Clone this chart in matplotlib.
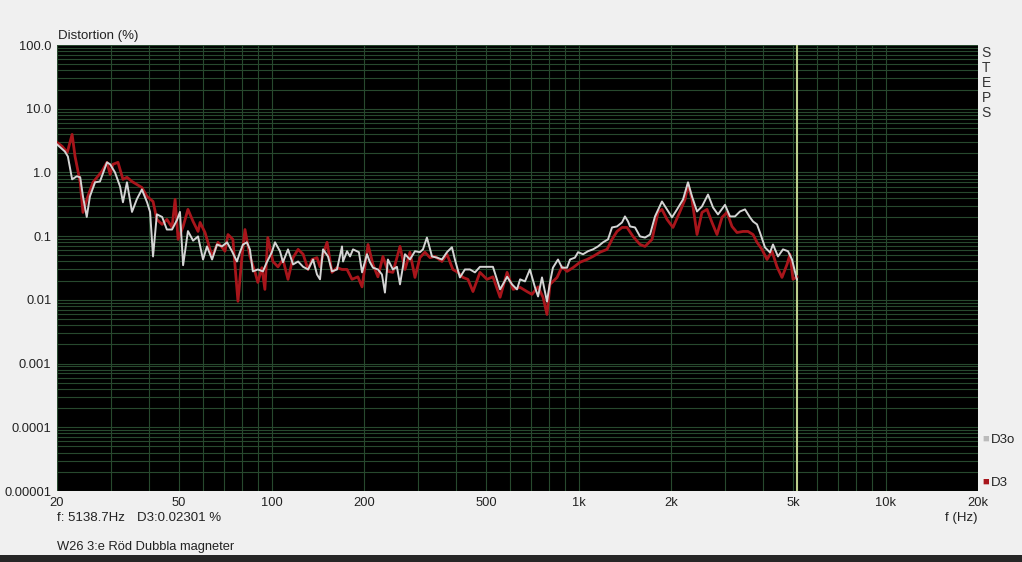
import matplotlib.pyplot as plt
import matplotlib.ticker as mticker
from matplotlib.patches import Rectangle
import numpy as np

plt.rcParams['font.family'] = ['Liberation Sans', 'DejaVu Sans']

# D3o (grå kurva)
f_d3o = [20, 20.5, 21.2, 21.7, 22.4, 23.2, 23.8, 24.3, 25.0, 25.6, 26.6, 27.6, 29.1, 29.8,
         30.9, 32.1, 32.8, 33.8, 35.1, 36.4, 37.8, 39.3, 40.2, 41.1, 42.3, 44.0, 45.6, 47.4,
         49.2, 50.3, 51.5, 53.4, 55.5, 57.6, 59.8, 61.6, 64.0, 66.4, 68.9, 71.6, 74.3, 77.1,
         78.9, 80.7, 83.1, 85.0, 86.9, 90.2, 93.7, 96.5, 100.2, 102.6, 106.5, 108.9, 113.1,
         117.5, 122.0, 126.7, 131.5, 136.5, 140.6, 143.8, 147.1, 152.7, 157.3, 163.3, 169.6,
         170.9, 176.1, 180.1, 184.2, 192.5, 197.1, 204.5, 209.1, 213.9, 222.0, 228.8, 234.0,
         239.3, 248.4, 256.0, 262.0, 272.0, 282.3, 293.1, 304.2, 311.2, 320.6, 333.1, 345.8,
         358.9, 372.6, 386.7, 395.5, 410.6, 426.3, 442.6, 459.7, 477.2, 503, 526, 555, 585,
         607, 630, 645, 669, 694, 721, 738, 760, 789, 807, 825, 857, 883, 917, 938, 973, 996,
         1034, 1073, 1114, 1157, 1201, 1247, 1285, 1334, 1385, 1416, 1449, 1471, 1527, 1585,
         1646, 1709, 1774, 1869, 1941, 2015, 2093, 2189, 2272, 2341, 2431, 2523, 2640, 2741,
         2845, 2999, 3113, 3232, 3356, 3484, 3617, 3700, 3812, 3898, 4048, 4202, 4298, 4462,
         4633, 4810, 4957, 5139]
d3o = [2.75, 2.47, 2.14, 1.78, 0.78, 0.87, 0.84, 0.42, 0.20, 0.42, 0.70, 0.72, 1.44, 1.34,
       1.0, 0.60, 0.34, 0.70, 0.24, 0.38, 0.54, 0.34, 0.24, 0.048, 0.22, 0.20, 0.127, 0.127,
       0.18, 0.24, 0.035, 0.12, 0.085, 0.099, 0.043, 0.069, 0.043, 0.074, 0.069, 0.080, 0.058,
       0.040, 0.056, 0.074, 0.080, 0.062, 0.028, 0.030, 0.028, 0.039, 0.056, 0.080, 0.058,
       0.039, 0.062, 0.036, 0.040, 0.033, 0.030, 0.043, 0.025, 0.021, 0.062, 0.048, 0.028,
       0.030, 0.069, 0.040, 0.058, 0.048, 0.062, 0.056, 0.027, 0.052, 0.039, 0.032, 0.030,
       0.025, 0.013, 0.043, 0.030, 0.033, 0.0175, 0.052, 0.043, 0.058, 0.056, 0.062, 0.095,
       0.048, 0.046, 0.043, 0.056, 0.067, 0.043, 0.0225, 0.030, 0.030, 0.027, 0.033, 0.033,
       0.033, 0.0146, 0.023, 0.0175, 0.0146, 0.021, 0.0195, 0.030, 0.0157, 0.0113, 0.0225,
       0.0094, 0.0188, 0.032, 0.043, 0.032, 0.032, 0.043, 0.046, 0.056, 0.052, 0.058, 0.062,
       0.069, 0.080, 0.089, 0.137, 0.142, 0.164, 0.204, 0.170, 0.142, 0.137, 0.099, 0.095,
       0.106, 0.204, 0.35, 0.263, 0.197, 0.263, 0.377, 0.70, 0.42, 0.244, 0.293, 0.45, 0.282,
       0.219, 0.31, 0.204, 0.204, 0.244, 0.263, 0.197, 0.170, 0.153, 0.114, 0.0665, 0.0555,
       0.074, 0.048, 0.062, 0.058, 0.043, 0.021]

# D3 (röd kurva)
f_d3 = [20, 20.8, 21.6, 22.4, 22.9, 23.8, 24.3, 25.2, 26.2, 28.0, 29.1, 29.8, 30.4, 31.6,
        32.8, 33.8, 35.1, 37.8, 39.3, 41.1, 42.3, 44.0, 45.6, 47.4, 48.5, 49.6, 51.5, 53.4,
        55.5, 57.6, 58.5, 60.7, 64.0, 66.9, 70.5, 72.1, 74.8, 77.7, 80.1, 81.9, 85.0, 88.2,
        90.2, 93.0, 95.1, 97.2, 101, 104.9, 108.9, 113.1, 117.5, 122.0, 126.7, 131.5, 135.5,
        140.6, 143.8, 147.1, 151.6, 157.3, 163.3, 169.6, 176.1, 182.8, 191.0, 197.1, 206.1,
        213.9, 222.0, 230.5, 239.3, 248.4, 262.0, 272.0, 282.3, 293.1, 304.2, 315.8, 328.1,
        340.7, 358.9, 372.6, 389.6, 404.5, 420.0, 436.0, 452.9, 477.2, 503, 526, 555, 585,
        612, 645, 679, 705, 738, 766, 789, 807, 851, 883, 917, 959, 1011, 1065, 1114, 1174,
        1238, 1285, 1334, 1385, 1438, 1504, 1585, 1646, 1735, 1814, 1869, 1941, 2030, 2140,
        2222, 2272, 2341, 2431, 2523, 2620, 2720, 2824, 2932, 3044, 3160, 3281, 3432, 3563,
        3700, 3812, 3957, 4109, 4266, 4429, 4598, 4774, 4883, 4994, 5139]
d3 = [2.96, 2.56, 2.06, 3.95, 1.78, 0.70, 0.236, 0.42, 0.70, 1.04, 1.44, 0.93, 1.34, 1.44,
      0.78, 0.84, 0.72, 0.58, 0.42, 0.35, 0.183, 0.153, 0.183, 0.137, 0.377, 0.089, 0.142,
      0.263, 0.170, 0.1185, 0.164, 0.114, 0.048, 0.080, 0.058, 0.106, 0.089, 0.0095, 0.048,
      0.127, 0.048, 0.028, 0.0188, 0.032, 0.0146, 0.095, 0.040, 0.033, 0.043, 0.021, 0.046,
      0.062, 0.052, 0.030, 0.043, 0.046, 0.033, 0.052, 0.080, 0.027, 0.032, 0.030, 0.030,
      0.021, 0.023, 0.016, 0.074, 0.036, 0.023, 0.048, 0.028, 0.027, 0.069, 0.030, 0.056,
      0.0225, 0.046, 0.056, 0.046, 0.048, 0.040, 0.052, 0.030, 0.027, 0.0225, 0.021, 0.0135,
      0.027, 0.021, 0.023, 0.011, 0.027, 0.0146, 0.0157, 0.0135, 0.0122, 0.016, 0.011,
      0.0059, 0.0175, 0.0225, 0.033, 0.028, 0.032, 0.039, 0.043, 0.048, 0.056, 0.062, 0.089,
      0.1185, 0.137, 0.137, 0.099, 0.074, 0.069, 0.089, 0.236, 0.263, 0.183, 0.137, 0.244,
      0.377, 0.65, 0.377, 0.106, 0.236, 0.263, 0.164, 0.106, 0.197, 0.236, 0.142, 0.114,
      0.1185, 0.1185, 0.106, 0.080, 0.062, 0.043, 0.058, 0.033, 0.0225, 0.036, 0.052, 0.021,
      0.023]

xticks = [20, 50, 100, 200, 500, 1000, 2000, 5000, 10000, 20000]
xlabels = ['20', '50', '100', '200', '500', '1k', '2k', '5k', '10k', '20k']
yticks = [1e-5, 1e-4, 1e-3, 1e-2, 1e-1, 1, 10, 100]
ylabels = ['0.00001', '0.0001', '0.001', '0.01', '0.1', '1.0', '10.0', '100.0']
cursor_f = 5138.7

W, H = 1022, 562
fig = plt.figure(figsize=(W / 100, H / 100), dpi=100, facecolor='#f0f0f0')
ax = fig.add_axes([57 / W, 1 - 491 / H, (978 - 57) / W, (491 - 45) / H])
ax.set_facecolor('black')

ax.set_xscale('log')
ax.set_yscale('log')
ax.set_xlim(20, 20000)
ax.set_ylim(1e-5, 100)

ax.xaxis.set_minor_locator(mticker.LogLocator(base=10, subs=np.arange(1, 10), numticks=50))
ax.yaxis.set_minor_locator(mticker.LogLocator(base=10, subs=np.arange(1, 10), numticks=50))
ax.xaxis.set_minor_formatter(mticker.NullFormatter())
ax.yaxis.set_minor_formatter(mticker.NullFormatter())
ax.set_xticks(xticks, xlabels)
ax.set_yticks(yticks, ylabels)
ax.grid(which='both', color='#27492e', linewidth=0.8)
ax.set_axisbelow(True)
ax.tick_params(which='both', length=0, labelsize=9.3, colors='#222222')
ax.tick_params(axis='x', pad=4)
ax.tick_params(axis='y', pad=4)
for s in ax.spines.values():
    s.set_visible(False)

ax.plot(f_d3, d3, color='#a8151b', linewidth=2.0, zorder=3)
ax.plot(f_d3o, d3o, color='#d4d4d4', linewidth=1.4, zorder=4)
ax.axvline(cursor_f, color='#bccf8c', linewidth=1.5, zorder=2)

fig.text(58 / W, 1 - 36 / H, 'Distortion (%)', fontsize=9.5, color='#222222', va='center')
fig.text(986 / W, 1 - 46 / H, 'S\nT\nE\nP\nS', fontsize=10, color='#333333',
         va='top', ha='center', linespacing=1.08)
fig.text(982 / W, 1 - 439 / H, '■', fontsize=8, color='#bbbbbb', va='center')
fig.text(991 / W, 1 - 440 / H, 'D3o', fontsize=9.5, color='#222222', va='center')
fig.text(982 / W, 1 - 482 / H, '■', fontsize=8, color='#a8151b', va='center')
fig.text(991 / W, 1 - 483 / H, 'D3', fontsize=9.5, color='#222222', va='center')
fig.text(961 / W, 1 - 518 / H, 'f (Hz)', fontsize=9.5, color='#222222', va='center', ha='center')
fig.text(57 / W, 1 - 518 / H, 'f: 5138.7Hz', fontsize=9.5, color='#222222', va='center')
fig.text(137 / W, 1 - 518 / H, 'D3:0.02301 %', fontsize=9.5, color='#222222', va='center')
fig.text(57 / W, 1 - 547 / H, 'W26 3:e Röd Dubbla magneter', fontsize=9.3, color='#222222',
         va='center')
fig.patches.append(Rectangle((0, 0), 1, 7 / H, transform=fig.transFigure,
                             facecolor='#262626', edgecolor='none'))

fig.savefig('out.png', dpi=100, facecolor=fig.get_facecolor())
